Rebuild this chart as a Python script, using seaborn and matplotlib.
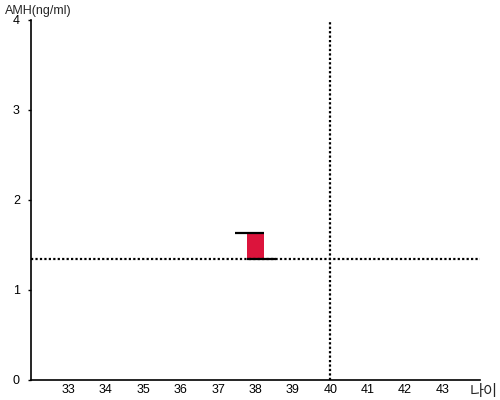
import pandas as pd
import seaborn as sns
import matplotlib.pyplot as plt

# data
ages = [38]
amh_values = [1.63]
ref_amh = 1.35
ref_age = 40
x_ticks = list(range(33, 44))
y_ticks = [0, 1, 2, 3, 4]

sns.set_theme(style="white")
plt.rcParams['font.family'] = ['Liberation Sans', 'Noto Sans CJK KR', 'DejaVu Sans']

fig = plt.figure(figsize=(5, 4), dpi=100)
ax = fig.add_axes([0.062, 0.05, 0.898, 0.90])

df = pd.DataFrame({'age': ages, 'amh': amh_values})
df['height'] = df['amh'] - ref_amh

bar_w = 0.43
sns.barplot(data=df, x='age', y='height', bottom=ref_amh, native_scale=True,
            width=bar_w, color='#DC143C', saturation=1, linewidth=0, ax=ax)

# black caps: top one sticks out left, bottom one sticks out right
for a, v in zip(ages, amh_values):
    ax.hlines(v, a - bar_w / 2 - 0.32, a + bar_w / 2, color='black', lw=1.6, zorder=4)
    ax.hlines(ref_amh, a - bar_w / 2, a + bar_w / 2 + 0.32, color='black', lw=1.6, zorder=4)

ax.axhline(ref_amh, color='black', lw=1.6, linestyle=(0, (1, 1)), zorder=3)
ax.axvline(ref_age, color='black', lw=1.6, linestyle=(0, (1, 1)), zorder=3)

ax.set_xlim(32, 44)
ax.set_ylim(0, 4)
ax.set_xticks(x_ticks)
ax.set_xticklabels([str(t) for t in x_ticks])
ax.set_yticks(y_ticks)
ax.set_xlabel('')
ax.set_ylabel('')
ax.tick_params(axis='x', length=0, pad=3, labelsize=9, colors='black')
ax.tick_params(axis='y', length=2, width=1, direction='out', pad=6, labelsize=9,
               left=True, colors='black')

sns.despine(ax=ax)
for s in ['left', 'bottom']:
    ax.spines[s].set_color('black')
    ax.spines[s].set_linewidth(1.2)

fig.text(0.01, 0.973, 'AMH(ng/ml)', fontsize=9, ha='left', va='center')
fig.text(0.995, 0.02, '나이', fontsize=11, ha='right', va='center')

fig.savefig('out.png', dpi=100)
